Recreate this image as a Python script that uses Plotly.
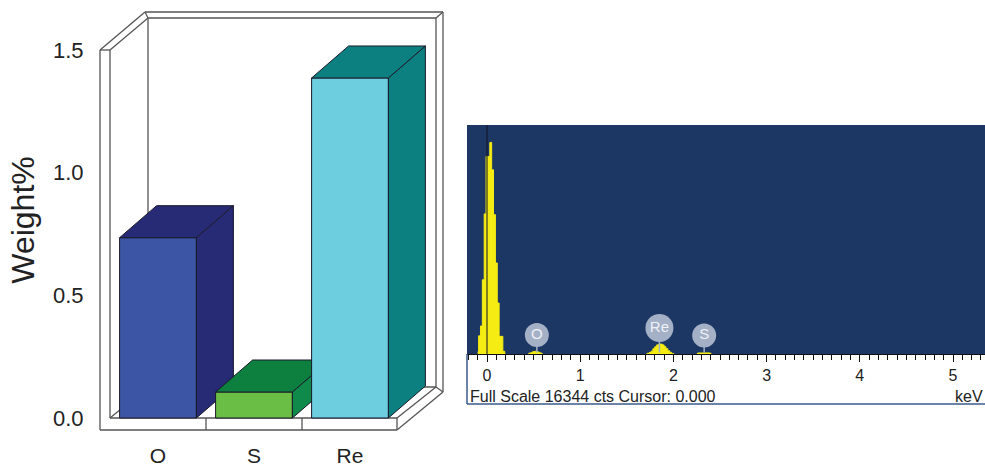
import plotly.graph_objects as go

W, H = 985, 468

# Weight% chart data
elements = ["O", "S", "Re"]
weights = [0.735, 0.106, 1.386]
front_colors = ["#3C55A5", "#6ABD45", "#6DCEDF"]
top_colors = ["#272A75", "#0D7F3F", "#0C8080"]
side_colors = ["#272A75", "#0F8A4A", "#0C8080"]
weight_ticks = [0.0, 0.5, 1.0, 1.5]

# EDS spectrum data (keV, counts)
energy_zero = [-0.10, -0.08, -0.06, -0.04, -0.02, 0.00, 0.02, 0.04, 0.06, 0.08, 0.10, 0.12, 0.14, 0.16, 0.18, 0.20]
counts_zero = [150, 1300, 2000, 5300, 10000, 14100, 14100, 15100, 13150, 9950, 6500, 3640, 1260, 1260, 190, 0]
energy_o = [0.44, 0.46, 0.48, 0.50, 0.52, 0.54, 0.56, 0.58, 0.60]
counts_o = [0, 60, 100, 170, 190, 170, 120, 60, 0]
energy_re = [1.71, 1.73, 1.75, 1.77, 1.79, 1.81, 1.83, 1.85, 1.87, 1.89, 1.91, 1.93, 1.95, 1.97, 1.99, 2.01]
counts_re = [0, 50, 100, 200, 380, 520, 650, 710, 710, 650, 520, 380, 230, 120, 40, 0]
energy_s = [2.25, 2.27, 2.29, 2.31, 2.33, 2.35, 2.37, 2.39, 2.41]
counts_s = [0, 70, 80, 80, 80, 80, 80, 70, 0]
peak_labels = ["O", "Re", "S"]
peak_energy = [0.535, 1.85, 2.33]
peak_height = [1356, 1856, 1320]
FULL_SCALE = 16344

# Pixel layout of both panels
BAR_L, BAR_R, BAR_T, BAR_B = 100, 445, 10, 430
Y0_PX, PX_PER_UNIT = 418, 245.33
CAT0_PX, PX_PER_CAT = 158, 96
SP_L, SP_R, SP_T, SP_B = 467, 985, 125, 354
KEV0_PX, PX_PER_KEV = 487, 93.2
BAR_WIDTH = 0.8
DX, DY = 37 / PX_PER_CAT, 32 / PX_PER_UNIT


def px(x):
    return x / W


def py(y):
    return 1 - y / H


bar_xrange = [(BAR_L - CAT0_PX) / PX_PER_CAT, (BAR_R - CAT0_PX) / PX_PER_CAT]
bar_yrange = [(Y0_PX - BAR_B) / PX_PER_UNIT, (Y0_PX - BAR_T) / PX_PER_UNIT]
bar_xdom = [px(BAR_L), px(BAR_R)]
bar_ydom = [py(BAR_B), py(BAR_T)]

fig = go.Figure()
layers = [("x", "y"), ("x3", "y3"), ("x4", "y4")]
EDGE = dict(color="#1a1a2a", width=1)

for i, (name, val) in enumerate(zip(elements, weights)):
    xa, ya = layers[i]
    l, r = i - BAR_WIDTH / 2, i + BAR_WIDTH / 2
    fig.add_trace(go.Scatter(
        x=[r, r + DX, r + DX, r, r], y=[0, DY, val + DY, val, 0],
        mode="lines", fill="toself", fillcolor=side_colors[i], line=EDGE,
        xaxis=xa, yaxis=ya, showlegend=False, hoverinfo="skip"))
    fig.add_trace(go.Scatter(
        x=[l, r, r + DX, l + DX, l], y=[val, val, val + DY, val + DY, val],
        mode="lines", fill="toself", fillcolor=top_colors[i], line=EDGE,
        xaxis=xa, yaxis=ya, showlegend=False, hoverinfo="skip"))
    fig.add_trace(go.Bar(
        x=[i], y=[val], width=BAR_WIDTH, marker=dict(color=front_colors[i], line=EDGE),
        xaxis=xa, yaxis=ya, showlegend=False, name=name))

YEL = "#F5EC13"
for ex, cy in [(energy_zero, counts_zero), (energy_o, counts_o), (energy_re, counts_re), (energy_s, counts_s)]:
    fig.add_trace(go.Scatter(
        x=ex, y=cy, mode="lines", line=dict(shape="hvh", color=YEL, width=1),
        fill="tozeroy", fillcolor=YEL, xaxis="x2", yaxis="y2", showlegend=False))

# Cursor
fig.add_trace(go.Scatter(x=[0, 0], y=[0, FULL_SCALE], mode="lines",
                         line=dict(color="#111122", width=1), xaxis="x2", yaxis="y2", showlegend=False))

# Peak markers
BADGE = "#A3B0C6"
for e, h, lab in zip(peak_energy, peak_height, peak_labels):
    fig.add_trace(go.Scatter(x=[e, e], y=[100, h], mode="lines", line=dict(color=BADGE, width=1.5),
                             xaxis="x2", yaxis="y2", showlegend=False))
    fig.add_trace(go.Scatter(
        x=[e], y=[h], mode="markers+text", text=[lab], textposition="middle center",
        marker=dict(size=28 if lab == "Re" else 24, color=BADGE),
        textfont=dict(family="Liberation Sans", size=15, color="#EEF1F6"),
        xaxis="x2", yaxis="y2", showlegend=False))

FR = "#555555"
frame = [
    [(100, 50), (100, 430), (397, 430), (443, 392), (443, 12), (145, 12), (100, 50), (110, 50), (148, 18), (145, 12)],
    [(110, 50), (110, 418), (397, 418), (436, 387), (436, 18), (148, 18), (148, 387), (436, 387), (443, 392)],
    [(436, 18), (443, 12)],
    [(110, 418), (148, 387)],
    [(397, 418), (397, 430)],
    [(206, 418), (206, 430)],
    [(302, 418), (302, 430)],
]
shapes = []
for poly in frame:
    for (x0, y0), (x1, y1) in zip(poly[:-1], poly[1:]):
        shapes.append(dict(type="line", xref="paper", yref="paper", layer="below",
                           x0=px(x0), y0=py(y0), x1=px(x1), y1=py(y1), line=dict(color=FR, width=1.3)))
# Spectrum panel border
BORD = "#3A5A8C"
for (x0, y0), (x1, y1) in [((467, 354), (467, 404)), ((467, 404), (985, 404))]:
    shapes.append(dict(type="line", xref="paper", yref="paper",
                       x0=px(x0), y0=py(y0), x1=px(x1), y1=py(y1), line=dict(color=BORD, width=1.5)))

hidden = dict(visible=False, domain=bar_xdom, range=bar_xrange, fixedrange=True)
hiddeny = dict(visible=False, domain=bar_ydom, range=bar_yrange, fixedrange=True)

fig.update_layout(
    width=W, height=H, autosize=False, margin=dict(l=0, r=0, t=0, b=0),
    paper_bgcolor="white", plot_bgcolor="rgba(0,0,0,0)", showlegend=False,
    font=dict(family="Liberation Sans", color="#222222"), shapes=shapes, barmode="overlay",
    xaxis=dict(domain=bar_xdom, range=bar_xrange, tickmode="array", tickvals=[0, 1, 2], ticktext=elements,
               ticks="outside", ticklen=7, tickcolor="rgba(0,0,0,0)", tickfont=dict(size=21), automargin=False,
               showgrid=False, zeroline=False, showline=False, fixedrange=True),
    yaxis=dict(domain=bar_ydom, range=bar_yrange, tickmode="array", tickvals=weight_ticks,
               ticktext=["%.1f" % t for t in weight_ticks], ticks="outside", ticklen=11, automargin=False,
               tickcolor="rgba(0,0,0,0)", tickfont=dict(size=22), showgrid=False, zeroline=False,
               showline=False, fixedrange=True,
               title=dict(text="Weight%", font=dict(size=32), standoff=8)),
    xaxis3=dict(overlaying="x", anchor="y3", **hidden),
    yaxis3=dict(overlaying="y", anchor="x3", **hiddeny),
    xaxis4=dict(overlaying="x", anchor="y4", **hidden),
    yaxis4=dict(overlaying="y", anchor="x4", **hiddeny),
    xaxis2=dict(domain=[px(SP_L), px(SP_R)], anchor="y2", automargin=False,
                range=[(SP_L - KEV0_PX) / PX_PER_KEV, (SP_R - KEV0_PX) / PX_PER_KEV],
                tickmode="array", tickvals=[0, 1, 2, 3, 4, 5], ticks="outside", ticklen=7, tickwidth=1,
                tickcolor="#111111", tickfont=dict(size=16, color="#222222"), ticklabelstandoff=0,
                minor=dict(dtick=0.1, tick0=0, ticks="outside", ticklen=5, tickcolor="#111111", tickwidth=1),
                showline=True, linecolor="#111111", linewidth=1, showgrid=False, zeroline=False, fixedrange=True),
    yaxis2=dict(domain=[py(SP_B), py(SP_T)], anchor="x2", range=[0, FULL_SCALE], visible=False, fixedrange=True),
    annotations=[
        dict(text="Full Scale 16344 cts Cursor: 0.000", xref="paper", yref="paper", x=px(468), y=py(396),
             xanchor="left", yanchor="middle", showarrow=False, font=dict(size=16, color="#222222")),
        dict(text="keV", xref="paper", yref="paper", x=px(985), y=py(396), xanchor="right", yanchor="middle",
             showarrow=False, font=dict(size=16, color="#222222")),
    ],
)

# Spectrum panel background
fig.add_shape(type="rect", xref="paper", yref="paper", layer="below", x0=px(SP_L), x1=px(SP_R),
              y0=py(SP_B), y1=py(SP_T), fillcolor="#1C3764", line=dict(width=0))

fig.write_html("out.html", config={"displayModeBar": False},
               post_script="document.body.style.margin='0';")
